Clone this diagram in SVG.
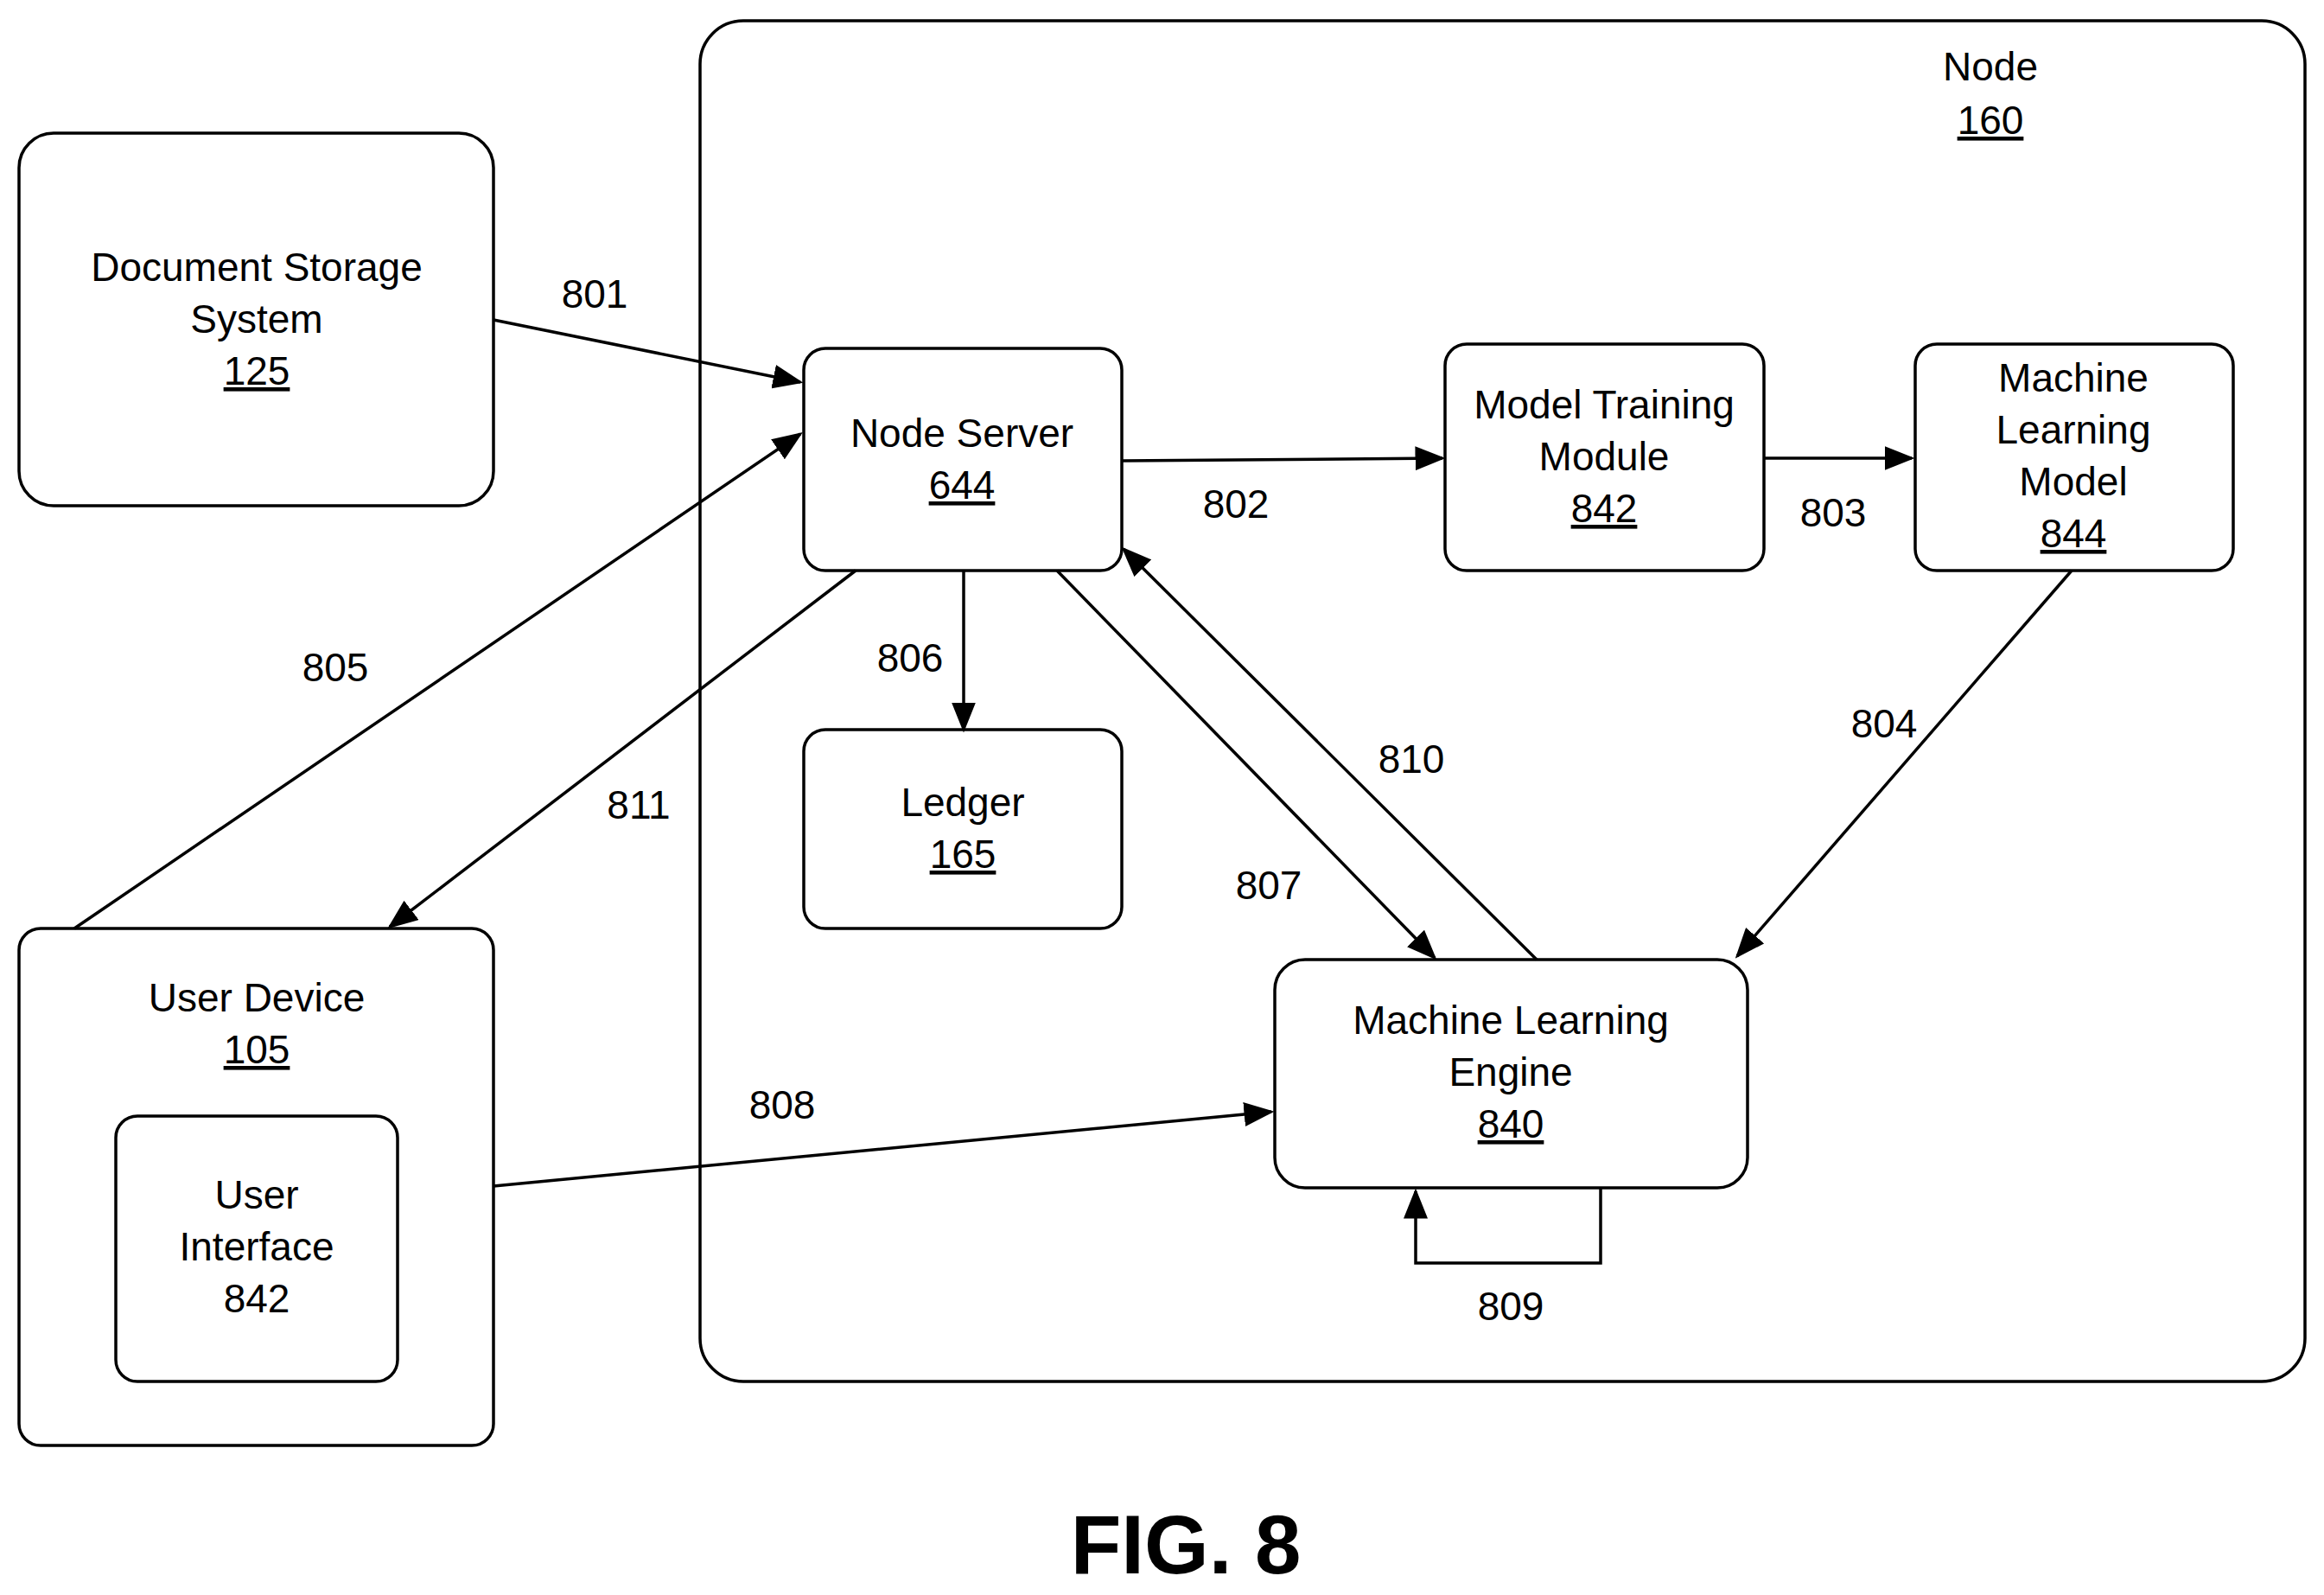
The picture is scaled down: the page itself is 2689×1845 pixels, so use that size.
<svg xmlns="http://www.w3.org/2000/svg" width="2689" height="1845" viewBox="0 0 2689 1845">
<style>
.b{fill:#fff;stroke:#000;stroke-width:3.5}
text{font-family:"Liberation Sans",Arial,sans-serif;font-size:46px;text-anchor:middle;fill:#000}
.u{text-decoration:underline}
.c{fill:none;stroke:#000;stroke-width:3.5}
</style>
<defs><marker id="a" markerWidth="10" markerHeight="8" refX="9" refY="4" orient="auto" markerUnits="strokeWidth"><path d="M0,0L10,4L0,8z" fill="#000"/></marker></defs>
<rect width="2689" height="1845" fill="#fff"/>
<g id="node160"><rect class="b" x="810" y="24" width="1857" height="1574" rx="50"/><text x="2303" y="93">Node</text><text x="2303" y="155" class="u">160</text></g>
<g id="doc"><rect class="b" x="22" y="154" width="549" height="431" rx="40"/><text x="297" y="325">Document Storage</text><text x="297" y="385">System</text><text x="297" y="445" class="u">125</text></g>
<g id="server"><rect class="b" x="930" y="403" width="368" height="257" rx="25"/><text x="1113" y="517">Node Server</text><text x="1113" y="577" class="u">644</text></g>
<g id="mtm"><rect class="b" x="1672" y="398" width="369" height="262" rx="25"/><text x="1856" y="484">Model Training</text><text x="1856" y="544">Module</text><text x="1856" y="604" class="u">842</text></g>
<g id="mlm"><rect class="b" x="2216" y="398" width="368" height="262" rx="25"/><text x="2399" y="453">Machine</text><text x="2399" y="513">Learning</text><text x="2399" y="573">Model</text><text x="2399" y="633" class="u">844</text></g>
<g id="ledger"><rect class="b" x="930" y="844" width="368" height="230" rx="25"/><text x="1114" y="944">Ledger</text><text x="1114" y="1004" class="u">165</text></g>
<g id="mle"><rect class="b" x="1475" y="1110" width="547" height="264" rx="35"/><text x="1748" y="1196">Machine Learning</text><text x="1748" y="1256">Engine</text><text x="1748" y="1316" class="u">840</text></g>
<g id="ud"><rect class="b" x="22" y="1074" width="549" height="598" rx="25"/><text x="297" y="1170">User Device</text><text x="297" y="1230" class="u">105</text></g>
<g id="ui"><rect class="b" x="134" y="1291" width="326" height="307" rx="25"/><text x="297" y="1398">User</text><text x="297" y="1458">Interface</text><text x="297" y="1518">842</text></g>
<g id="connectors">
<line class="c" x1="571" y1="370" x2="926" y2="442" marker-end="url(#a)"/>
<line class="c" x1="86" y1="1074" x2="926" y2="502" marker-end="url(#a)"/>
<line class="c" x1="990" y1="660" x2="451" y2="1072" marker-end="url(#a)"/>
<line class="c" x1="1298" y1="533" x2="1669" y2="530" marker-end="url(#a)"/>
<line class="c" x1="2041" y1="530" x2="2212" y2="530" marker-end="url(#a)"/>
<line class="c" x1="1115" y1="660" x2="1115" y2="844" marker-end="url(#a)"/>
<line class="c" x1="1223" y1="660" x2="1660" y2="1108" marker-end="url(#a)"/>
<line class="c" x1="1778" y1="1110" x2="1300" y2="635" marker-end="url(#a)"/>
<line class="c" x1="2397" y1="660" x2="2010" y2="1106" marker-end="url(#a)"/>
<line class="c" x1="571" y1="1372" x2="1471" y2="1286" marker-end="url(#a)"/>
<polyline class="c" points="1852,1374 1852,1461 1638,1461 1638,1378" marker-end="url(#a)"/>
<text x="688" y="356">801</text><text x="1430" y="599">802</text><text x="2121" y="609">803</text><text x="2180" y="853">804</text><text x="388" y="788">805</text><text x="1053" y="777">806</text><text x="1468" y="1040">807</text><text x="905" y="1294">808</text><text x="1748" y="1527">809</text><text x="1633" y="894">810</text><text x="739" y="947">811</text>
</g>
<text x="1372" y="1820" style="font-size:96px;font-weight:bold">FIG. 8</text>
</svg>
